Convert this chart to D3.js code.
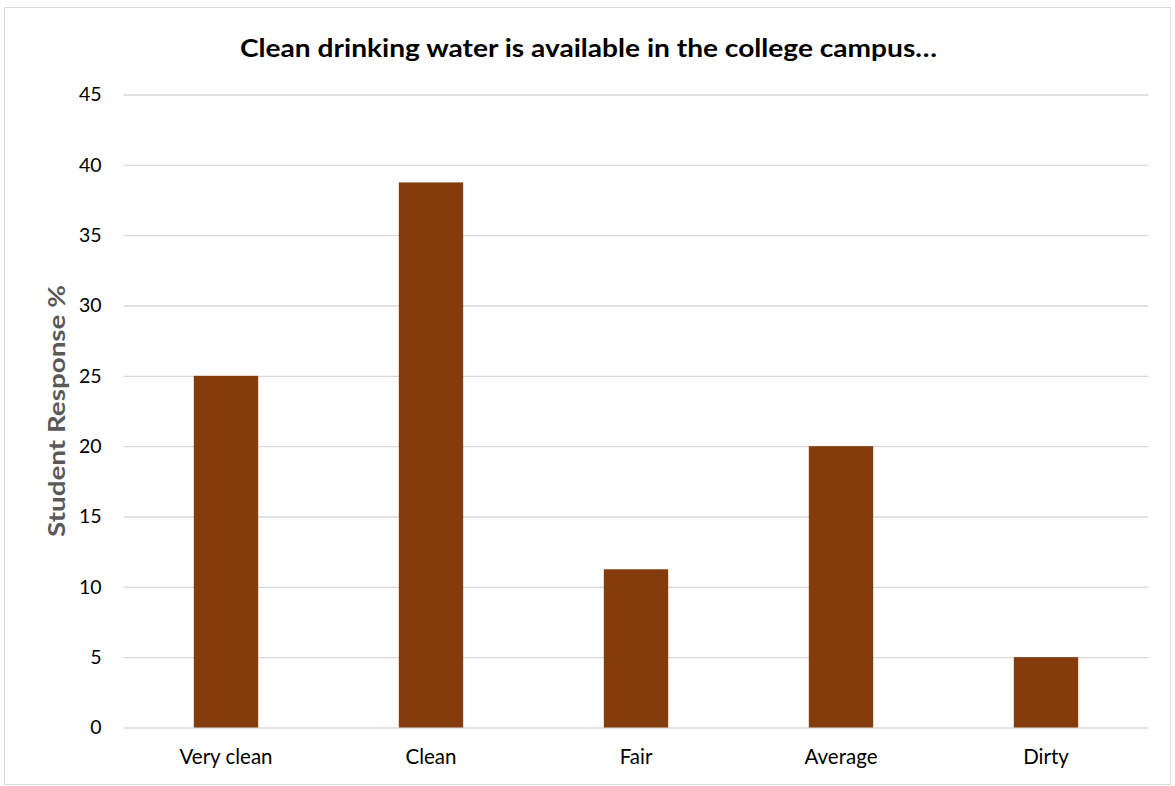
<!DOCTYPE html>
<html><head><meta charset="utf-8">
<script src="https://cdn.jsdelivr.net/npm/d3@7"></script>
<style>body{margin:0;background:#fff;} svg{display:block;}</style>
</head><body>
<svg id="c" width="1175" height="786"></svg>
<script>
const categories = ["Very clean", "Clean", "Fair", "Average", "Dirty"];
const values = [25, 38.75, 11.25, 20, 5];
const yTicks = [0, 5, 10, 15, 20, 25, 30, 35, 40, 45];
const titleText = "Clean drinking water is available in the college campus…";
const yLabel = "Student Response %";

const svg = d3.select("#c");
const font = "Lato, 'Open Sans', sans-serif";
svg.append("rect").attr("x",4.5).attr("y",7.5).attr("width",1166).attr("height",777)
  .attr("fill","#fff").attr("stroke","#d9d9d9").attr("stroke-width",1);

const x = d3.scaleBand().domain(categories).range([123.5, 1148.5]).paddingInner(0.686).paddingOuter(0.343);
const y = d3.scaleLinear().domain([0, 45]).range([727.5, 94.5]);

const yAxis = d3.axisLeft(y).tickValues(yTicks).tickSize(-1025).tickPadding(22);
const gy = svg.append("g").attr("transform","translate(123.5,0)").call(yAxis);
gy.select(".domain").remove();
gy.selectAll(".tick line").attr("stroke","#d9d9d9").attr("stroke-width",1.3);
gy.selectAll(".tick text").attr("font-family",font).attr("font-size",19.5).attr("fill","#000");

svg.append("g").selectAll("rect").data(values).join("rect")
  .attr("x",(d,i)=>x(categories[i])).attr("width",x.bandwidth())
  .attr("y",d=>y(d)).attr("height",d=>y(0)-y(d))
  .attr("fill","#843C0C");

const xAxis = d3.axisBottom(x).tickSize(0).tickPadding(22);
const gx = svg.append("g").attr("transform","translate(0,727.5)").call(xAxis);
gx.select(".domain").remove();
gx.selectAll(".tick text").attr("font-family",font).attr("font-size",20.5).attr("fill","#000");

svg.append("text").attr("x",588.5).attr("y",57).attr("text-anchor","middle")
  .attr("font-family",font).attr("font-weight","bold").attr("font-size",24).attr("fill","#000")
  .attr("textLength",697).attr("lengthAdjust","spacingAndGlyphs").text(titleText);

svg.append("text").attr("transform","translate(65,411) rotate(-90)").attr("text-anchor","middle")
  .attr("font-family",font).attr("font-weight","bold").attr("font-size",23).attr("fill","#595959")
  .attr("textLength",252).attr("lengthAdjust","spacingAndGlyphs").text(yLabel);
</script>
</body></html>
